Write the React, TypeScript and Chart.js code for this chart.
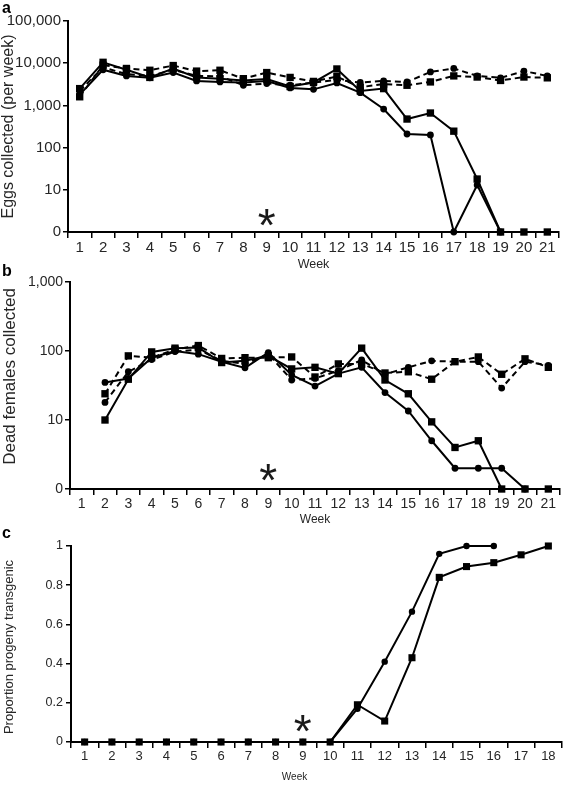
import React, { useEffect, useRef } from "react";
import { Chart, registerables } from "chart.js";

Chart.register(...registerables);

const FONT = "'Liberation Sans', Arial, Helvetica, sans-serif";
const TEXT = "#262626";

// ---------- data ----------
const WEEKS_21 = ["1", "2", "3", "4", "5", "6", "7", "8", "9", "10", "11", "12", "13", "14", "15", "16", "17", "18", "19", "20", "21"];
const WEEKS_18 = ["1", "2", "3", "4", "5", "6", "7", "8", "9", "10", "11", "12", "13", "14", "15", "16", "17", "18"];
const RELEASE_WEEK = "9";

const EGGS_TICKS = [1, 10, 100, 1000, 10000, 100000];
const DEAD_TICKS = [1, 10, 100, 1000];
const PROP_TICKS = [0, 0.2, 0.4, 0.6, 0.8, 1];

// Panel a: eggs collected per week
const eggsCageSquare = [2500, 10500, 7000, 4600, 7500, 4600, 4300, 3900, 4200, 2800, 3500, 7300, 2200, 2500, 475, 660, 245, 18, 0, 0, 0];
const eggsCageCircle = [1800, 7000, 5000, 4500, 6000, 3800, 3600, 3500, 3800, 2600, 2400, 3400, 2000, 820, 210, 200, 0, 13, 0, null, null];
const eggsControlSquare = [1600, 9000, 7500, 6800, 8800, 6500, 6800, 4300, 6000, 4600, 3700, 4800, 2700, 3200, 3000, 3600, 5000, 4700, 3900, 4700, 4500];
const eggsControlCircle = [2200, 8000, 5500, 5000, 7000, 5000, 4900, 3000, 3300, 3000, 3500, 4000, 3500, 3800, 3600, 6200, 7500, 5000, 4500, 6500, 5000];

// Panel b: dead females collected
const deadCageSquare = [null, 10, 39, 97, 110, 112, 68, 72, 85, 55, 58, 47, 110, 38, 24, 9.4, 4, 5, 0, 0, 0];
const deadCageCircle = [null, 35, 40, 80, 100, 90, 70, 57, 95, 45, 31, 47, 58, 25, 13.5, 5, 2, 2, 2, 0, null];
const deadControlSquare = [null, 24, 85, 80, 105, 120, 78, 80, 80, 82, 42, 65, 65, 48, 50, 39, 70, 82, 46, 77, 58];
const deadControlCircle = [null, 18, 50, 75, 98, 105, 72, 65, 90, 38, 40, 52, 74, 46, 58, 72, 70, 70, 29, 70, 62];

// Panel c: proportion of progeny transgenic
const propSquare = [0, 0, 0, 0, 0, 0, 0, 0, 0, 0, 0.19, 0.107, 0.43, 0.84, 0.895, 0.915, 0.955, 1.0];
const propCircle = [0, 0, 0, 0, 0, 0, 0, 0, 0, 0, 0.17, 0.41, 0.665, 0.96, 1.0, 1.0, null, null];

// zero counts sit on the "0" floor of the log axis (value 1)
const onLogFloor = (arr: (number | null)[]) => arr.map((v) => (v === 0 ? 1 : v));

// ---------- helpers ----------
function lineSet(data: (number | null)[], shape: "circle" | "rect", dashed: boolean, sq: number, ci: number) {
  return {
    data,
    borderColor: "#000",
    backgroundColor: "#000",
    borderWidth: 2,
    borderDash: dashed ? [6, 4] : [],
    pointStyle: shape,
    pointRadius: shape === "rect" ? sq : ci,
    pointBackgroundColor: "#000",
    pointBorderColor: "#000",
    pointBorderWidth: 0,
    tension: 0,
    clip: false as any,
    spanGaps: false,
  };
}

type Spec = {
  top: number;
  h: number;
  padTop: number;
  padRight: number;
  yw: number;
  xh: number;
  labels: string[];
  datasets: any[];
  yScale: any;
  tickSize: number;
  letter: string;
  letterY: number;
  yTitle: string;
  yTitleSize: number;
  yTitleX: number;
  yTitleDy: number;
  xTitleSize: number;
  xTitleDx: number;
  xTitleDy: number;
  starDy: number;
  starSize: number;
};

function makeConfig(s: Spec): any {
  const extras = {
    id: "extras",
    afterDraw(chart: any) {
      const { ctx, chartArea: a, scales } = chart;
      ctx.save();
      // panel letter
      ctx.font = `bold 16px ${FONT}`;
      ctx.fillStyle = "#000";
      ctx.textAlign = "left";
      ctx.textBaseline = "alphabetic";
      ctx.fillText(s.letter, 2, s.letterY);
      ctx.fillStyle = TEXT;
      // y title
      ctx.save();
      ctx.font = `${s.yTitleSize}px ${FONT}`;
      ctx.translate(s.yTitleX, (a.top + a.bottom) / 2 + s.yTitleDy);
      ctx.rotate(-Math.PI / 2);
      ctx.textAlign = "center";
      ctx.textBaseline = "middle";
      ctx.fillText(s.yTitle, 0, 0);
      ctx.restore();
      // x title
      ctx.font = `${s.xTitleSize}px ${FONT}`;
      ctx.textAlign = "center";
      ctx.textBaseline = "middle";
      ctx.fillText("Week", (a.left + a.right) / 2 + s.xTitleDx, a.bottom + s.xTitleDy);
      // release asterisk
      const idx = s.labels.indexOf(RELEASE_WEEK);
      const ax = scales.x.getPixelForValue(idx);
      const cy = a.bottom - s.starDy;
      ctx.font = `${s.starSize}px ${FONT}`;
      ctx.fillStyle = "#1a1a1a";
      ctx.textAlign = "left";
      ctx.textBaseline = "alphabetic";
      const m = ctx.measureText("*");
      ctx.fillText(
        "*",
        ax - (m.actualBoundingBoxRight - m.actualBoundingBoxLeft) / 2,
        cy + (m.actualBoundingBoxAscent - m.actualBoundingBoxDescent) / 2
      );
      ctx.restore();
    },
  };

  return {
    type: "line",
    data: { labels: s.labels, datasets: s.datasets },
    options: {
      responsive: false,
      animation: false,
      devicePixelRatio: 1,
      events: [],
      layout: { padding: { left: 0, right: s.padRight, top: s.padTop, bottom: 0 } },
      plugins: { legend: { display: false }, tooltip: { enabled: false }, title: { display: false } },
      scales: {
        x: {
          type: "category",
          offset: true,
          grid: {
            display: true,
            drawOnChartArea: false,
            drawTicks: true,
            tickLength: 6,
            offset: true,
            color: "#000",
            lineWidth: 1.5,
          },
          border: { display: true, color: "#000", width: 2 },
          ticks: {
            color: TEXT,
            font: { family: FONT, size: s.tickSize },
            padding: 1,
            maxRotation: 0,
            autoSkip: false,
          },
          afterFit: (sc: any) => {
            sc.height = s.xh;
          },
        },
        y: {
          ...s.yScale,
          grid: {
            display: true,
            drawOnChartArea: false,
            drawTicks: true,
            tickLength: 5,
            color: "#000",
            lineWidth: 1.5,
          },
          border: { display: true, color: "#000", width: 2 },
          afterFit: (sc: any) => {
            sc.width = s.yw;
          },
        },
      },
    },
    plugins: [extras],
  };
}

function logScale(ticks: number[], size: number) {
  return {
    type: "logarithmic",
    min: ticks[0],
    max: ticks[ticks.length - 1],
    afterBuildTicks: (sc: any) => {
      sc.ticks = ticks.map((v) => ({ value: v }));
    },
    ticks: {
      color: TEXT,
      font: { family: FONT, size },
      padding: 2,
      callback: (v: any) => (Number(v) === 1 ? "0" : Number(v).toLocaleString("en-US")),
    },
  };
}

function linScale(ticks: number[], size: number) {
  return {
    type: "linear",
    min: ticks[0],
    max: ticks[ticks.length - 1],
    afterBuildTicks: (sc: any) => {
      sc.ticks = ticks.map((v) => ({ value: v }));
    },
    ticks: {
      color: TEXT,
      font: { family: FONT, size },
      padding: 3,
      callback: (v: any) => String(Number(Number(v).toFixed(1))),
    },
  };
}

const SPECS: Spec[] = [
  {
    top: 0,
    h: 272,
    padTop: 21,
    padRight: 8,
    yw: 68,
    xh: 40,
    labels: WEEKS_21,
    datasets: [
      lineSet(onLogFloor(eggsCageSquare), "rect", false, 5.2, 3.4),
      lineSet(onLogFloor(eggsCageCircle), "circle", false, 5.2, 3.4),
      lineSet(onLogFloor(eggsControlSquare), "rect", true, 5.2, 3.4),
      lineSet(onLogFloor(eggsControlCircle), "circle", true, 5.2, 3.4),
    ],
    yScale: logScale(EGGS_TICKS, 15),
    tickSize: 15,
    letter: "a",
    letterY: 13,
    yTitle: "Eggs collected (per week)",
    yTitleSize: 16,
    yTitleX: 9,
    yTitleDy: 0,
    xTitleSize: 12.5,
    xTitleDx: 0,
    xTitleDy: 33,
    starDy: 15,
    starSize: 46,
  },
  {
    top: 250,
    h: 280,
    padTop: 32,
    padRight: 7,
    yw: 70,
    xh: 41,
    labels: WEEKS_21,
    datasets: [
      lineSet(onLogFloor(deadCageSquare), "rect", false, 5.2, 3.4),
      lineSet(onLogFloor(deadCageCircle), "circle", false, 5.2, 3.4),
      lineSet(onLogFloor(deadControlSquare), "rect", true, 5.2, 3.4),
      lineSet(onLogFloor(deadControlCircle), "circle", true, 5.2, 3.4),
    ],
    yScale: logScale(DEAD_TICKS, 14),
    tickSize: 14,
    letter: "b",
    letterY: 26,
    yTitle: "Dead females collected",
    yTitleSize: 17,
    yTitleX: 10,
    yTitleDy: -9,
    xTitleSize: 12,
    xTitleDx: 0,
    xTitleDy: 31,
    starDy: 17,
    starSize: 46,
  },
  {
    top: 525,
    h: 260,
    padTop: 21,
    padRight: 4,
    yw: 71,
    xh: 43,
    labels: WEEKS_18,
    datasets: [
      lineSet(propSquare, "rect", false, 5, 3.2),
      lineSet(propCircle, "circle", false, 5, 3.2),
    ],
    yScale: linScale(PROP_TICKS, 12.5),
    tickSize: 13,
    letter: "c",
    letterY: 13,
    yTitle: "Proportion progeny transgenic",
    yTitleSize: 13,
    yTitleX: 9,
    yTitleDy: 3,
    xTitleSize: 10,
    xTitleDx: -22,
    xTitleDy: 35,
    starDy: 19,
    starSize: 46,
  },
];

function Panel({ spec }: { spec: Spec }) {
  const ref = useRef<HTMLCanvasElement>(null);
  useEffect(() => {
    if (!ref.current) return;
    const chart = new Chart(ref.current, makeConfig(spec));
    return () => chart.destroy();
  }, [spec]);
  return (
    <canvas
      ref={ref}
      width={567}
      height={spec.h}
      style={{ position: "absolute", left: 0, top: spec.top, width: 567, height: spec.h }}
    />
  );
}

export default function App() {
  return (
    <div style={{ position: "absolute", left: 0, top: 0, width: 567, height: 785, background: "#fff", overflow: "hidden" }}>
      {SPECS.map((s, i) => (
        <Panel key={i} spec={s} />
      ))}
    </div>
  );
}
